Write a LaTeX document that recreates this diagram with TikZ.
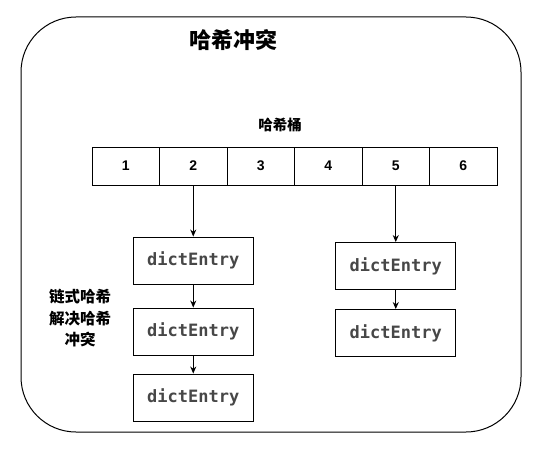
\documentclass[tikz,border=0pt]{standalone}
\usepackage{fontspec}
\setmainfont{Liberation Sans}
\newfontfamily\cjk{Noto Sans CJK SC}
\newfontfamily\monof{DejaVu Sans Mono}
\usetikzlibrary{arrows.meta}
\begin{document}
\begin{tikzpicture}[x=1pt,y=-1pt,
  cell/.style={draw, line width=0.9pt, minimum width=67.5pt, minimum height=38pt, inner sep=0pt, font=\bfseries\fontsize{14}{16}\selectfont},
  entry/.style={draw, line width=0.9pt, minimum width=120pt, minimum height=47pt, inner sep=0pt, font=\monof\bfseries\fontsize{17}{19}\selectfont, text=black!72},
  link/.style={-{Stealth[length=7pt,width=6pt]}, line width=0.9pt}]
\useasboundingbox (0,0) rectangle (543,452);
\draw[line width=1pt, rounded corners=55pt] (21,17) rectangle (521,432);
\node[font=\cjk\bfseries\fontsize{22}{24}\selectfont] (title) at (233,40) {哈希冲突};
\node[font=\cjk\bfseries\fontsize{14.5}{16}\selectfont] (bucket) at (280,125) {哈希桶};
\node[cell] (c1) at (125.75,166) {1};
\node[cell] (c2) at (193.25,166) {2};
\node[cell] (c3) at (260.75,166) {3};
\node[cell] (c4) at (328.25,166) {4};
\node[cell] (c5) at (395.75,166) {5};
\node[cell] (c6) at (463.25,166) {6};
\node[entry] (e1) at (193.25,260.5) {dictEntry};
\node[entry] (e2) at (193.25,331.5) {dictEntry};
\node[entry] (e3) at (193.25,397.5) {dictEntry};
\node[entry] (f1) at (395.75,266) {dictEntry};
\node[entry] (f2) at (395.75,333) {dictEntry};
\node[font=\cjk\bfseries\fontsize{15.5}{21.5}\selectfont, align=center] (label) at (80,318.5) {链式哈希\\解决哈希\\冲突};
\draw[link] (c2) -- (e1);
\draw[link] (e1) -- (e2);
\draw[link] (e2) -- (e3);
\draw[link] (c5) -- (f1);
\draw[link] (f1) -- (f2);
\end{tikzpicture}
\end{document}
